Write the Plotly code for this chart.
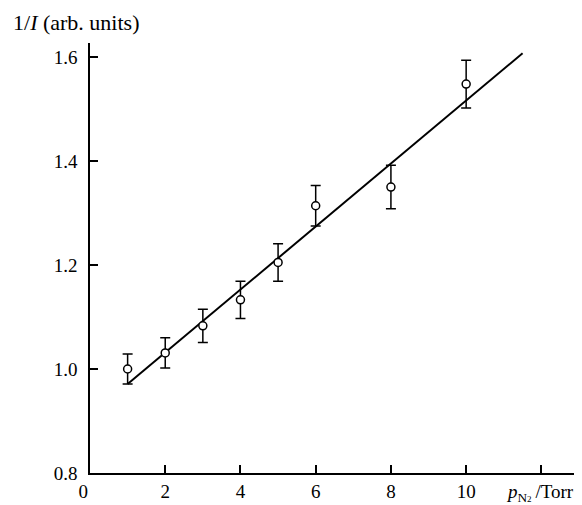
import plotly.graph_objects as go

# Data
pressure = [1, 2, 3, 4, 5, 6, 8, 10]
inv_intensity = [1.000, 1.031, 1.083, 1.133, 1.205, 1.314, 1.350, 1.548]
error = [0.029, 0.029, 0.032, 0.036, 0.036, 0.039, 0.042, 0.046]
fit_x = [1.0, 11.5]
fit_slope = 0.0606
fit_intercept = 0.9104
x_ticks = [0, 2, 4, 6, 8, 10, 12]
x_tick_labels = ["0\u2002\u2009", "2", "4", "6", "8", "10", ""]
y_ticks = [0.8, 1.0, 1.2, 1.4, 1.6]
y_tick_labels = ["0.8", "1.0", "1.2", "1.4", "1.6"]

fit_y = [fit_intercept + fit_slope * x for x in fit_x]

FONT = "Liberation Serif, Times New Roman, serif"

# page body has an 8px margin; figure sized so the plot lands where the reference has it
W, H = 574, 497
ML, MR, MT, MB = 82, 3, 35, 32
PW, PH = W - ML - MR, H - MT - MB

fig = go.Figure()
fig.add_trace(go.Scatter(
    x=fit_x, y=fit_y, mode="lines",
    line=dict(color="black", width=2), showlegend=False, hoverinfo="skip"))
fig.add_trace(go.Scatter(
    x=pressure, y=inv_intensity, mode="markers",
    marker=dict(symbol="circle", size=8, color="white",
                line=dict(color="black", width=1.5)),
    error_y=dict(type="data", array=error, visible=True,
                 color="black", thickness=1.5, width=5),
    showlegend=False))

axis_common = dict(
    showline=True, linecolor="black", linewidth=1.5,
    ticks="inside", ticklen=8, tickwidth=1.5, tickcolor="black",
    showgrid=False, zeroline=False,
    tickfont=dict(family=FONT, size=19, color="black"),
)

fig.update_layout(
    width=W, height=H,
    margin=dict(l=ML, r=MR, t=MT, b=MB, autoexpand=False),
    paper_bgcolor="white", plot_bgcolor="white",
    font=dict(family=FONT, color="black"),
    xaxis=dict(range=[0, 13], tickvals=x_ticks, ticktext=x_tick_labels, **axis_common),
    yaxis=dict(range=[0.8, 1.627], tickvals=y_ticks, ticktext=y_tick_labels,
               ticklabelstandoff=7, **axis_common),
    annotations=[
        dict(text="1/<i>I</i> (arb. units)", xref="paper", yref="paper",
             x=-(ML - 3) / PW, y=1 + 21 / PH, xanchor="left", yanchor="middle",
             showarrow=False, font=dict(family=FONT, size=22, color="black")),
        dict(text="<i>p</i><sub>N<span style='font-size:9px'>2</span></sub>\u2009/Torr",
             xref="paper", yref="paper",
             x=(W - 6 - ML) / PW, y=-20 / PH, xanchor="right", yanchor="middle",
             showarrow=False, font=dict(family=FONT, size=19, color="black")),
    ],
)

fig.write_html("out.html")
